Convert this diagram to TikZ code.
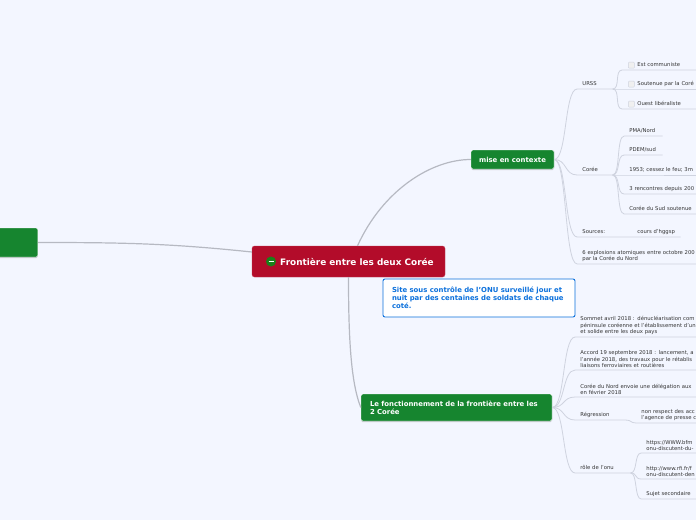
\documentclass[tikz,border=0pt]{standalone}
\usepackage{fontspec}
\setmainfont{DejaVu Sans}
\usepackage{xcolor}
\usetikzlibrary{positioning,calc,shadows}
\definecolor{pagebg}{HTML}{F3F6FF}
\definecolor{rootred}{HTML}{B30C2A}
\definecolor{topicgreen}{HTML}{16852F}
\definecolor{noteblue}{HTML}{0B70DC}
\definecolor{branchgray}{HTML}{B6B9C2}
\definecolor{twiggray}{HTML}{CFD3DF}
\definecolor{leaftext}{HTML}{333333}
\tikzset{
  rootbox/.style={draw=rootred!80!white, fill=rootred, rounded corners=2.5pt, align=center, text=white, inner sep=0pt, font=\fontsize{8.9}{10}\selectfont\bfseries},
  topic/.style={draw=white, fill=topicgreen, rounded corners=1.5pt, align=left, text=white, inner sep=0pt, font=\fontsize{6.9}{8.2}\selectfont\bfseries, drop shadow={shadow xshift=0pt, shadow yshift=-1pt, opacity=.35}},
  note/.style={draw=noteblue, fill=white, rounded corners=2pt, line width=.9pt, align=left, text=noteblue, inner sep=0pt, font=\fontsize{6.9}{8}\selectfont\bfseries},
  leaf/.style={text width=#1, inner xsep=5pt, inner ysep=2pt, align=left, text=leaftext, font=\fontsize{5.3}{6.7}\selectfont},
  single/.style={leaf=#1, text depth=1.2pt},
  check/.style={draw=twiggray, fill=gray!12, rounded corners=.8pt, inner sep=0pt, minimum size=6pt},
  branch/.style={draw=branchgray, line width=1.2pt},
  twig/.style={draw=twiggray, line width=.8pt},
  fan/.style={to path={.. controls +(#1,0) and +(-#1,0) .. (\tikztotarget)}},
  fan/.default=13pt,
}
\begin{document}
\begin{tikzpicture}[x=1pt, y=-1pt]
  \path[use as bounding box, fill=pagebg] (0,0) rectangle (696,520);

  % centre
  \node[rootbox, minimum width=193pt, minimum height=31pt] (central) at (348.5,261.5) {\hspace*{17pt}Frontière entre les deux Corée};
  \node[circle, fill=green!45!black!90!white, minimum size=10pt, inner sep=0pt, right=14pt of central.west] (icon) {};
  \draw[white, line width=1pt] ($(icon.center)+(-2.5,0)$) -- ($(icon.center)+(2.5,0)$);

  \node[topic, minimum width=70pt, minimum height=29pt, above left=19pt and 310.5pt of central.center, anchor=east] (hidden) {};
  \node[topic, minimum width=83pt, minimum height=19pt, align=center, above right=102pt and 164pt of central.center, anchor=center] (mise) {mise en contexte};
  \node[topic, minimum width=191pt, minimum height=27pt, text width=173pt, below right=146pt and 108pt of central.center, anchor=center] (fonct) {Le fonctionnement de la frontière entre les\\2 Corée};
  \node[note, minimum width=192pt, minimum height=38pt, text width=174pt, below right=36.5pt and 130.5pt of central.center, anchor=center] (site) {Site sous contrôle de l'ONU surveillé jour et\\nuit par des centaines de soldats de chaque\\coté.};

  \draw[branch] ($(central.west)+(0,-9.5)$) to[out=174,in=0] (hidden.east);
  \draw[branch] ($(central.north)+(9,0)$) .. controls +(25,-55) and +(-40,0) .. (mise.west);
  \draw[branch] (central.south) .. controls +(0,60) and +(-10,-25) .. (fonct.west);

  % mise en contexte
  \node[single=25pt, above right=70.5pt and 23pt of mise.east, anchor=south west] (urss) {URSS};
  \node[single=48pt, inner xsep=15pt, above right=19pt and 45pt of urss.south west, anchor=south west] (est) {Est communiste};
  \node[single=60pt, inner xsep=15pt, below=19pt of est.south west, anchor=south west] (soutenue) {Soutenue par la Coré};
  \node[single=48pt, inner xsep=15pt, below=20pt of soutenue.south west, anchor=south west] (ouest) {Ouest libéraliste};
  \node[check, right=6pt of est.west] (checka) {};
  \node[check, right=6pt of soutenue.west] (checkb) {};
  \node[check, right=6pt of ouest.west] (checkc) {};

  \node[single=25pt, below=86pt of urss.south west, anchor=south west] (coree) {Corée};
  \node[single=28pt, above right=39pt and 47pt of coree.south west, anchor=south west] (pma) {PMA/Nord};
  \node[single=28pt, below=19pt of pma.south west, anchor=south west] (pdem) {PDEM/sud};
  \node[single=70pt, below=20pt of pdem.south west, anchor=south west] (cessez) {1953; cessez le feu; 3m};
  \node[single=70pt, below=19pt of cessez.south west, anchor=south west] (rencontres) {3 rencontres depuis 200};
  \node[single=70pt, below=20pt of rencontres.south west, anchor=south west] (sudsout) {Corée du Sud soutenue};

  \node[single=45pt, below=62pt of coree.south west, anchor=south west] (sources) {Sources:};
  \node[single=38pt, right=55pt of sources.south west, anchor=south west] (cours) {cours d'hggsp};
  \node[leaf=125pt, below=27pt of sources.south west, anchor=south west] (six) {6 explosions atomiques entre octobre 200\\par la Corée du Nord};

  \draw[twig] (mise.east) to[fan] (urss.south west) -- (urss.south east);
  \draw[twig] (mise.east) to[fan] (coree.south west) -- (coree.south east);
  \draw[twig] (mise.east) to[fan] (sources.south west) -- (sources.south east) -- (cours.south west) -- (cours.south east);
  \draw[twig] (mise.east) to[fan] (six.south west) -- (six.south east);

  \draw[twig] (urss.south east) to[fan=8pt] (est.south west) -- (est.south east);
  \draw[twig] (urss.south east) -- (soutenue.south west) -- (soutenue.south east);
  \draw[twig] (urss.south east) to[fan=8pt] (ouest.south west) -- (ouest.south east);

  \draw[twig] (coree.south east) to[fan=8pt] (pma.south west) -- (pma.south east);
  \draw[twig] (coree.south east) to[fan=8pt] (pdem.south west) -- (pdem.south east);
  \draw[twig] (coree.south east) -- (cessez.south west) -- (cessez.south east);
  \draw[twig] (coree.south east) to[fan=8pt] (rencontres.south west) -- (rencontres.south east);
  \draw[twig] (coree.south east) to[fan=8pt] (sudsout.south west) -- (sudsout.south east);

  % fonctionnement
  \node[leaf=125pt, above right=70.5pt and 23pt of fonct.east, anchor=south west] (sommet) {Sommet avril 2018 : dénucléarisation com\\péninsule coréenne et l'établissement d'un\\et solide entre les deux pays};
  \node[leaf=125pt, below=33pt of sommet.south west, anchor=south west] (accord) {Accord 19 septembre 2018 : lancement, a\\l'année 2018, des travaux pour le rétablis\\liaisons ferroviaires et routières};
  \node[leaf=125pt, below=27pt of accord.south west, anchor=south west] (delegation) {Corée du Nord envoie une délégation aux\\en février 2018};
  \node[single=40pt, below=23pt of delegation.south west, anchor=south west] (regression) {Régression};
  \node[leaf=70pt, below right=3pt and 61pt of regression.south west, anchor=south west] (respect) {non respect des acc\\l'agence de presse c};
  \node[single=45pt, below=53pt of regression.south west, anchor=south west] (role) {rôle de l'onu};
  \node[leaf=70pt, above right=20pt and 66pt of role.south west, anchor=south west] (bfm) {https://WWW.bfm\\onu-discutent-du-};
  \node[leaf=70pt, below=26pt of bfm.south west, anchor=south west] (rfi) {http://www.rfi.fr/f\\onu-discutent-den};
  \node[single=70pt, below=20pt of rfi.south west, anchor=south west] (sujet) {Sujet secondaire};

  \draw[twig] (fonct.east) to[fan] (sommet.south west) -- (sommet.south east);
  \draw[twig] (fonct.east) to[fan] (accord.south west) -- (accord.south east);
  \draw[twig] (fonct.east) to[fan] (delegation.south west) -- (delegation.south east);
  \draw[twig] (fonct.east) to[fan] (regression.south west) -- (regression.south east);
  \draw[twig] (fonct.east) to[fan] (role.south west) -- (role.south east);

  \draw[twig] (regression.south east) to[fan=6pt] (respect.south west) -- (respect.south east);
  \draw[twig] (role.south east) to[fan=7pt] (bfm.south west) -- (bfm.south east);
  \draw[twig] (role.south east) to[fan=7pt] (rfi.south west) -- (rfi.south east);
  \draw[twig] (role.south east) to[fan=7pt] (sujet.south west) -- (sujet.south east);
\end{tikzpicture}
\end{document}
